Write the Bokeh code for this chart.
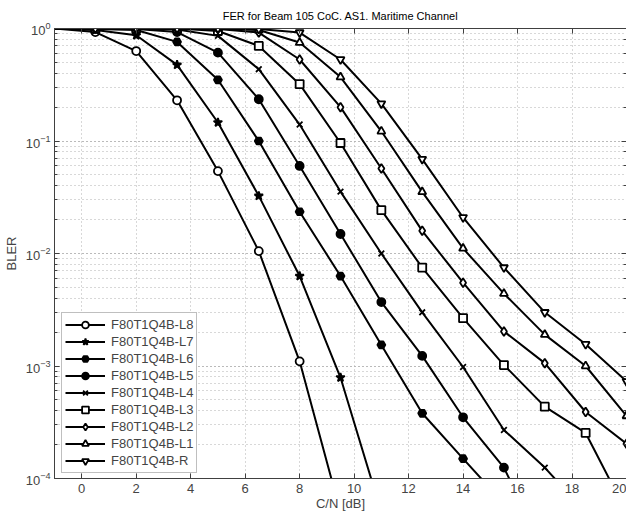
from bokeh.plotting import figure
from bokeh.models import LinearAxis, LogAxis, Range1d, FixedTicker, LogTicker, CustomJSTickFormatter
from bokeh.embed import file_html
from bokeh.resources import INLINE

snr = [-1, 0.5, 2, 3.5, 5, 6.5, 8, 9.5, 11, 12.5, 14, 15.5, 17, 18.5, 20]

L8 = [1, 0.93, 0.63, 0.23, 0.054, 0.0105, 0.0011, 5e-5]
L7 = [1, 0.97, 0.87, 0.475, 0.146, 0.0325, 0.0063, 7.9e-4, 5e-5]
L6 = [1, 0.99, 0.97, 0.76, 0.35, 0.1, 0.0235, 0.0063, 0.00154, 3.8e-4, 1.5e-4, 6e-5]
L5 = [1, 1, 0.99, 0.93, 0.61, 0.235, 0.06, 0.0149, 0.0037, 0.00123, 3.5e-4, 1.25e-4, 2.2e-5]
L4 = [1, 1, 1, 0.98, 0.86, 0.435, 0.14, 0.0355, 0.01, 0.003, 9.8e-4, 2.7e-4, 1.25e-4, 5e-5]
L3 = [1, 1, 1, 1, 0.95, 0.70, 0.32, 0.096, 0.0243, 0.0075, 0.00266, 0.00102, 4.35e-4, 2.54e-4, 5e-5]
L2 = [1, 1, 1, 1, 0.99, 0.92, 0.53, 0.20, 0.057, 0.0159, 0.0055, 0.00203, 0.00106, 3.9e-4, 2.04e-4]
L1 = [1, 1, 1, 1, 1, 0.97, 0.75, 0.37, 0.122, 0.0353, 0.0111, 0.0044, 0.0019, 0.001, 3.6e-4]
R = [1, 1, 1, 1, 1, 0.99, 0.92, 0.53, 0.215, 0.069, 0.0209, 0.0075, 0.003, 0.00156, 7.3e-4]

labels = ["F80T1Q4B-L8", "F80T1Q4B-L7", "F80T1Q4B-L6", "F80T1Q4B-L5", "F80T1Q4B-L4",
          "F80T1Q4B-L3", "F80T1Q4B-L2", "F80T1Q4B-L1", "F80T1Q4B-R"]
series = [L8, L7, L6, L5, L4, L3, L2, L1, R]
xticks = [0, 2, 4, 6, 8, 10, 12, 14, 16, 18, 20]

# marker styles: (marker, size, fill color)
styles = [("circle", 8, "white"), ("star", 9, "black"), ("hex", 8, "black"),
          ("circle", 8, "black"), ("x", 8, "black"), ("square", 8, "white"),
          ("diamond", 9, "white"), ("triangle", 8, "white"), ("inverted_triangle", 8, "white")]

FONT = "Liberation Sans"
AX = "#404040"

p = figure(frame_width=572, frame_height=450, y_axis_type="log",
           x_range=Range1d(-1, 20), y_range=Range1d(1e-4, 1),
           output_backend="svg", toolbar_location=None,
           title="FER for Beam 105 CoC. AS1. Maritime Channel",
           min_border_left=4, min_border_right=0, min_border_top=5, min_border_bottom=0)

p.title.align = "center"
p.title.text_font = FONT
p.title.text_font_size = "11px"
p.title.text_font_style = "normal"
p.title.text_color = "black"
p.title.standoff = 14

for vals, lab, (mk, sz, fc) in zip(series, labels, styles):
    xs = snr[:len(vals)]
    p.line(xs, vals, line_color="black", line_width=2, legend_label=lab)
    p.scatter(xs[1:], vals[1:], marker=mk, size=sz, fill_color=fc,
              line_color="black", line_width=1.8, legend_label=lab)

p.xaxis.ticker = FixedTicker(ticks=xticks)
p.xaxis.axis_label = "C/N [dB]"
p.yaxis.axis_label = "BLER"
for ax in [p.xaxis[0], p.yaxis[0]]:
    ax.axis_label_text_font = FONT
    ax.axis_label_text_font_size = "13px"
    ax.axis_label_text_font_style = "normal"
    ax.major_label_text_font = FONT
    ax.major_label_text_font_size = "13px"
    ax.axis_line_color = AX
    ax.major_tick_line_color = AX
    ax.minor_tick_line_color = AX
    ax.major_tick_in = 5
    ax.major_tick_out = 0
    ax.minor_tick_in = 3
    ax.minor_tick_out = 0
p.xaxis.axis_label_standoff = 0
p.yaxis.axis_label_standoff = 4
p.xaxis.major_label_standoff = 5
p.yaxis.major_label_standoff = 4

top = LinearAxis(ticker=FixedTicker(ticks=xticks), formatter=CustomJSTickFormatter(code="return ''"),
                 axis_line_color=AX, major_tick_line_color=AX, major_tick_in=5,
                 major_tick_out=0, minor_tick_line_color=None, major_label_standoff=0)
right = LogAxis(ticker=LogTicker(), formatter=CustomJSTickFormatter(code="return ''"),
                axis_line_color=AX, major_tick_line_color=AX, major_tick_in=5,
                major_tick_out=0, minor_tick_line_color=AX, minor_tick_in=3,
                minor_tick_out=0, major_label_standoff=0)
p.add_layout(top, "above")
p.add_layout(right, "right")

p.xgrid.grid_line_color = "#b0b0b0"
p.xgrid.grid_line_dash = "1 3"
p.ygrid.grid_line_color = "#b0b0b0"
p.ygrid.grid_line_dash = "1 3"
p.ygrid.minor_grid_line_color = "#b0b0b0"
p.ygrid.minor_grid_line_dash = "1 3"
p.outline_line_color = None

lg = p.legend[0]
lg.location = (7, 5)
lg.margin = 0
lg.padding = 3
lg.spacing = 0
lg.glyph_width = 40
lg.glyph_height = 17
lg.label_height = 17
lg.label_text_font = FONT
lg.label_text_font_size = "13px"
lg.label_standoff = 6
lg.border_line_color = "#808080"
lg.border_line_width = 1
lg.background_fill_alpha = 1

open("out.html", "w").write(file_html(p, INLINE))
